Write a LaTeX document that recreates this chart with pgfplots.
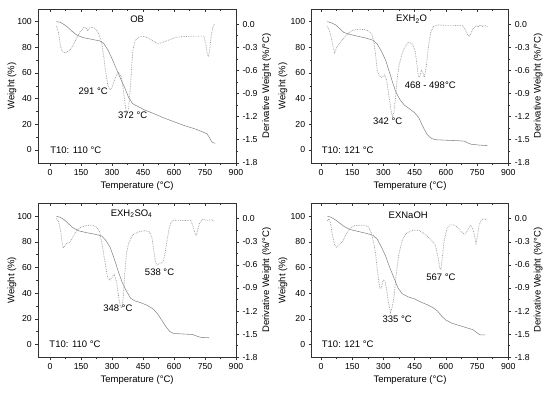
\documentclass[border=0pt]{standalone}
\usepackage{fontspec}
\setmainfont{Liberation Sans}
\usepackage{pgfplots}
\pgfplotsset{compat=1.18}
\definecolor{wgray}{RGB}{135,135,135}
\definecolor{dgray}{RGB}{150,150,150}
\definecolor{axgray}{RGB}{50,50,50}

\tikzset{
  wline/.style={wgray, line width=0.55pt},
  dline/.style={dgray, line width=0.7pt, densely dotted},
  ann/.style={font=\fontsize{9.5}{11}\selectfont},
}
\pgfplotsset{
  common/.style={scale only axis, height=154pt, ymin=-10, ymax=110, xmax=900,
    tick label style={font=\fontsize{8.7}{10}\selectfont},
    label style={font=\fontsize{9.5}{11}\selectfont},
    axis line style={axgray, line width=0.5pt},
    every tick/.style={axgray, line width=0.5pt},
    major tick length=3pt, minor tick length=2pt,
  },
  wax/.style={common, tick align=outside, xtick pos=bottom, ytick pos=left,
    xtick={0,150,300,450,600,750,900}, xticklabels={0,150,300,450,600,750,900},
    minor x tick num=1,
    ytick={0,20,40,60,80,100}, yticklabels={0,20,40,60,80,100}, minor y tick num=1,
    xlabel={Temperature (°C)}, ylabel={Weight (\%)},
    xlabel style={at={(axis description cs:0.5,-0.149)}, anchor=center},
  },
  dax/.style={common, ymin=-1.8, ymax=0.2, axis x line=none, axis y line*=right,
    tick align=outside,
    ytick={-1.8,-1.5,-1.2,-0.9,-0.6,-0.3,0}, yticklabels={-1.8,-1.5,-1.2,-0.9,-0.6,-0.3,0.0},
    minor y tick num=1, ylabel={Derivative Weight (\%/°C)},
  },
  tax/.style={common, axis y line=none, axis x line*=top, tick align=inside,
    xtick={0,150,300,450,600,750,900}, xticklabels={}, minor x tick num=1},
}

\begin{document}
\begin{tikzpicture}
\path[use as bounding box] (0,0) rectangle (550pt,393pt);

% ---------------- Panel 1: OB ----------------
\begin{axis}[wax, at={(38.3pt,230.2pt)}, anchor=south west, width=197.7pt, xmin=-57,
  ylabel style={at={(axis description cs:-0.133,0.5)}, anchor=center}]
\addplot[wline] table {
30 100
50 99.5
70 97.5
90 95
110 92
130 89.5
160 87.5
200 86.3
240 85
260 83
280 78
300 71
320 63.5
340 56
360 49
380 41
400 36
430 33.5
460 31
500 28.5
550 25
600 22
650 19
700 16.5
740 14
760 12.5
770 10
780 7
790 5.5
800 5.3
};
\node[ann] at (axis cs:209,46) {291 °C};
\node[ann] at (axis cs:400,27.3) {372 °C};
\node[ann, anchor=west] at (axis cs:-16,0) {T10: 110 °C};
\node[ann] at (axis description cs:0.5,0.933) {OB};
\end{axis}
\begin{axis}[dax, at={(38.3pt,230.2pt)}, anchor=south west, width=197.7pt, xmin=-57,
  ylabel style={at={(axis description cs:1.155,0.5)}, anchor=center}]
\addplot[dline] table {
30 -0.02
40 -0.10
50 -0.28
60 -0.36
75 -0.37
95 -0.34
110 -0.28
125 -0.20
145 -0.10
165 -0.04
175 -0.05
182 -0.09
190 -0.05
205 -0.04
220 -0.06
235 -0.12
248 -0.22
258 -0.38
268 -0.60
280 -0.80
290 -0.85
300 -0.82
315 -0.70
330 -0.62
345 -0.68
358 -0.92
366 -1.10
372 -1.16
380 -1.10
388 -0.85
395 -0.55
402 -0.32
412 -0.21
430 -0.165
450 -0.155
475 -0.18
500 -0.22
520 -0.25
540 -0.24
570 -0.21
610 -0.17
650 -0.16
700 -0.155
745 -0.155
755 -0.28
762 -0.40
767 -0.42
773 -0.32
780 -0.15
788 -0.04
795 0.0
};
\end{axis}
\begin{axis}[tax, at={(38.3pt,230.2pt)}, anchor=south west, width=197.7pt, xmin=-57]
\end{axis}

% ---------------- Panel 2: EXH2O ----------------
\begin{axis}[wax, at={(311.7pt,230.2pt)}, anchor=south west, width=196.6pt, xmin=-45,
  ylabel style={at={(axis description cs:-0.146,0.5)}, anchor=center}]
\addplot[wline] table {
30 100
50 99
70 97.5
90 94.5
110 91.5
140 90
180 88.5
220 87
250 85.5
270 82.5
290 77
310 70
330 60
345 52
360 45
380 39
400 35
430 31.5
450 29
470 25
490 18
510 12
530 9
550 8
600 7.6
660 7.2
690 6.8
705 5.5
720 4.5
760 3.8
800 3.4
};
\node[ann] at (axis cs:525,50.8) {468 - 498°C};
\node[ann] at (axis cs:320,22) {342 °C};
\node[ann, anchor=west] at (axis cs:-13,0) {T10: 121 °C};
\node[ann] at (axis description cs:0.508,0.933) {EXH\textsubscript{2}O};
\end{axis}
\begin{axis}[dax, at={(311.7pt,230.2pt)}, anchor=south west, width=196.6pt, xmin=-45,
  ylabel style={at={(axis description cs:1.152,0.5)}, anchor=center}]
\addplot[dline] table {
30 -0.03
40 -0.08
50 -0.18
58 -0.30
65 -0.37
75 -0.30
90 -0.24
110 -0.18
130 -0.12
150 -0.08
180 -0.065
210 -0.07
230 -0.09
245 -0.14
255 -0.25
263 -0.42
270 -0.60
280 -0.67
292 -0.69
305 -0.66
315 -0.72
325 -0.90
335 -1.10
342 -1.20
350 -1.15
358 -0.95
366 -0.70
374 -0.55
385 -0.42
400 -0.31
420 -0.23
440 -0.26
452 -0.35
460 -0.50
467 -0.67
474 -0.69
482 -0.60
488 -0.62
496 -0.69
503 -0.60
510 -0.45
518 -0.25
528 -0.10
540 -0.03
560 -0.01
600 -0.015
640 -0.015
680 -0.02
695 -0.08
705 -0.14
712 -0.16
720 -0.12
730 -0.06
745 -0.02
755 -0.035
765 -0.01
775 -0.03
785 -0.015
800 -0.03
};
\end{axis}
\begin{axis}[tax, at={(311.7pt,230.2pt)}, anchor=south west, width=196.6pt, xmin=-45]
\end{axis}

% ---------------- Panel 3: EXH2SO4 ----------------
\begin{axis}[wax, at={(38.3pt,35.7pt)}, anchor=south west, width=197.7pt, xmin=-57,
  ylabel style={at={(axis description cs:-0.133,0.5)}, anchor=center}]
\addplot[wline] table {
30 100
50 99
70 97
90 94
110 91
140 88.5
180 87
220 85.8
250 84.5
270 81
290 76
310 67
330 57
350 48
370 41.5
390 36
410 34
440 32.5
470 30.5
500 27.5
520 24
540 19
560 14
580 10
600 8.5
630 8.3
660 8
690 7.8
710 6.5
730 5.5
770 5.2
};
\node[ann] at (axis cs:530,56) {538 °C};
\node[ann] at (axis cs:328,28) {348 °C};
\node[ann, anchor=west] at (axis cs:-20,0) {T10: 110 °C};
\node[ann] at (axis description cs:0.472,0.933) {EXH\textsubscript{2}SO\textsubscript{4}};
\end{axis}
\begin{axis}[dax, at={(38.3pt,35.7pt)}, anchor=south west, width=197.7pt, xmin=-57,
  ylabel style={at={(axis description cs:1.155,0.5)}, anchor=center}]
\addplot[dline] table {
30 0.0
40 -0.03
50 -0.14
57 -0.28
63 -0.38
70 -0.36
80 -0.32
95 -0.31
110 -0.24
130 -0.15
150 -0.11
180 -0.085
205 -0.085
225 -0.11
240 -0.17
252 -0.34
265 -0.55
278 -0.76
290 -0.80
300 -0.76
310 -0.72
322 -0.82
332 -1.02
340 -1.13
347 -1.16
355 -1.00
362 -0.70
370 -0.45
380 -0.32
400 -0.21
430 -0.17
460 -0.155
480 -0.17
492 -0.23
502 -0.40
510 -0.56
518 -0.60
530 -0.58
545 -0.57
555 -0.48
565 -0.30
575 -0.14
585 -0.05
595 -0.02
620 -0.02
650 -0.025
680 -0.02
690 -0.08
700 -0.18
708 -0.22
715 -0.14
725 -0.05
740 -0.01
760 -0.02
780 -0.015
795 -0.03
};
\end{axis}
\begin{axis}[tax, at={(38.3pt,35.7pt)}, anchor=south west, width=197.7pt, xmin=-57]
\end{axis}

% ---------------- Panel 4: EXNaOH ----------------
\begin{axis}[wax, at={(311.7pt,35.7pt)}, anchor=south west, width=196.6pt, xmin=-45,
  ylabel style={at={(axis description cs:-0.146,0.5)}, anchor=center}]
\addplot[wline] table {
30 100
50 99
70 97
90 94.5
110 92
140 89.5
180 88
220 86.5
250 85
270 82
290 76
310 69
330 60
350 52
370 44
390 39.5
420 37
450 35.5
480 33
510 31
540 28.5
560 26
580 22
600 19
630 16.5
660 15
700 13
730 11.5
750 9
765 7.5
790 7.5
};
\node[ann] at (axis cs:576,52) {567 °C};
\node[ann] at (axis cs:366,20) {335 °C};
\node[ann, anchor=west] at (axis cs:-13,0) {T10: 121 °C};
\node[ann] at (axis description cs:0.491,0.92) {EXNaOH};
\end{axis}
\begin{axis}[dax, at={(311.7pt,35.7pt)}, anchor=south west, width=196.6pt, xmin=-45,
  ylabel style={at={(axis description cs:1.152,0.5)}, anchor=center}]
\addplot[dline] table {
30 -0.03
38 0.0
45 -0.05
55 -0.22
65 -0.34
75 -0.37
90 -0.33
105 -0.29
120 -0.20
140 -0.12
160 -0.09
200 -0.085
225 -0.10
240 -0.17
252 -0.30
262 -0.45
272 -0.70
282 -0.90
290 -0.90
298 -0.80
306 -0.80
315 -0.92
325 -1.10
334 -1.22
342 -1.15
352 -0.98
362 -0.70
375 -0.45
390 -0.28
410 -0.19
440 -0.15
470 -0.15
500 -0.20
530 -0.28
550 -0.35
562 -0.50
570 -0.64
576 -0.66
583 -0.50
592 -0.28
605 -0.13
620 -0.08
640 -0.08
660 -0.12
680 -0.19
692 -0.20
705 -0.15
718 -0.09
728 -0.12
738 -0.22
745 -0.32
752 -0.22
760 -0.08
770 -0.02
780 0.0
790 -0.01
798 0.0
};
\end{axis}
\begin{axis}[tax, at={(311.7pt,35.7pt)}, anchor=south west, width=196.6pt, xmin=-45]
\end{axis}
\end{tikzpicture}
\end{document}
